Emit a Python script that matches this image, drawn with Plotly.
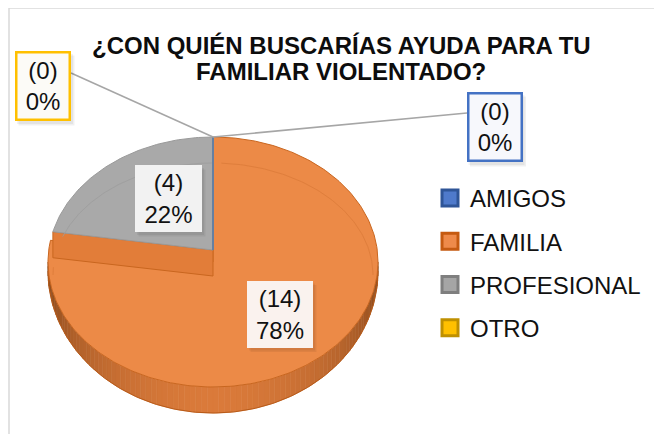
import numpy as np
import plotly.graph_objects as go

# ---------------- data ----------------
categories = ["AMIGOS", "FAMILIA", "PROFESIONAL", "OTRO"]
counts = [0, 14, 4, 0]
title_lines = ["¿CON QUIÉN BUSCARÍAS AYUDA PARA TU", "FAMILIAR VIOLENTADO?"]

# ---------------- style ----------------
face_colors = ["#4472C4", "#EC8A47", "#A9A9A9", "#FFC000"]
edge_colors = ["#4472C4", "#C9661F", "#9A9A9A", "#FFC000"]
bevel_colors = ["#4472C4", "#DD7C3A", "#9E9E9E", "#FFC000"]
legend_fill = ["#4F7ACB", "#EE8A4A", "#A5A5A5", "#FFC000"]
legend_border = ["#2F5597", "#C55A11", "#7F7F7F", "#BF9000"]
FONT = "Liberation Sans, Arial, sans-serif"

W, H = 662, 434
OFF = 8  # page body margin: shift axis ranges so data units equal screen pixels
CX, CY, RX, RY, DEPTH = 213.0, 262.0, 165.0, 125.0, 26.0
LIFT, GAP_DEG = 12.0, 4.0
# inner bevel ellipse
BCY, BRX, BRY = 275.0, 160.0, 112.0

total = sum(counts)
pcts = [round(c / total * 100) for c in counts]
ends = list(np.cumsum(counts) / total * 360.0)
starts = [0.0] + ends[:-1]


def rim(theta, dy=0.0):
    t = np.radians(theta)
    return CX + RX * np.sin(t), CY - RY * np.cos(t) + dy


def depth(theta):
    t = np.radians(np.asarray(theta) - 90.0)
    return DEPTH * (0.35 + 0.65 * np.clip(np.sin(t), 0, 1))


def arc(a0, a1, dy=0.0, step=1.0):
    n = max(2, int(abs(a1 - a0) / step) + 1)
    th = np.linspace(a0, a1, n)
    x, y = rim(th, dy)
    return list(x), list(y)


def mix(c1, c2, t):
    return "rgb(%d,%d,%d)" % tuple(int(round(a + (b - a) * t)) for a, b in zip(c1, c2))


fig = go.Figure()
big = int(np.argmax(counts))

# ---- side wall of the visible (front) rim ----
for i, c in enumerate(counts):
    if c == 0:
        continue
    a0, a1 = max(starts[i], 90.0), min(ends[i], 270.0)
    if a1 <= a0:
        continue
    seg = np.arange(a0, a1, 2.0).tolist() + [a1]
    for a, b in zip(seg[:-1], seg[1:]):
        u = abs(((a + b) / 2 - 180.0) / 90.0)
        col = mix((218, 122, 58), (130, 68, 24), u ** 1.6)
        xa, ya = rim(a)
        xb, yb = rim(b)
        da, db = float(depth(a)), float(depth(b))
        fig.add_trace(go.Scatter(
            x=[xa, xb, xb, xa, xa], y=[ya, yb, yb + db, ya + da, ya],
            mode="lines", fill="toself", fillcolor=col,
            line=dict(color=col, width=0.6), hoverinfo="skip", showlegend=False))
    th = np.linspace(a0, a1, int(a1 - a0) + 1)
    bx, by = rim(th)
    fig.add_trace(go.Scatter(x=list(bx), y=list(by + depth(th)), mode="lines",
                             line=dict(color="#B85A18", width=1),
                             hoverinfo="skip", showlegend=False))

# ---- largest slice top face ----
ax, ay = arc(starts[big], ends[big])
fig.add_trace(go.Scatter(
    x=[CX] + ax + [CX], y=[CY] + ay + [CY], mode="lines", fill="toself",
    fillcolor=face_colors[big], line=dict(color=edge_colors[big], width=1),
    hoverinfo="skip", showlegend=False))

# ---- radial wall of the largest slice (visible strip) ----
sx, sy = rim(ends[big] + GAP_DEG)
fig.add_trace(go.Scatter(
    x=[CX, sx, sx, CX, CX],
    y=[CY - LIFT, sy, sy + DEPTH, CY - LIFT + DEPTH, CY - LIFT],
    mode="lines", fill="toself", fillcolor="#E27D39",
    line=dict(color="#C9661F", width=1), hoverinfo="skip", showlegend=False))

# ---- other non-zero slices ----
for i, c in enumerate(counts):
    if c == 0 or i == big:
        continue
    a0 = starts[i] + (GAP_DEG if starts[i] == ends[big] else 0.0)
    ax, ay = arc(a0, ends[i])
    fig.add_trace(go.Scatter(
        x=[CX] + ax + [CX], y=[CY - LIFT] + ay + [CY - LIFT], mode="lines",
        fill="toself", fillcolor=face_colors[i],
        line=dict(color=edge_colors[i], width=1),
        hoverinfo="skip", showlegend=False))

# ---- faint bevel line on the back half of each top face ----
for i, c in enumerate(counts):
    if c == 0:
        continue
    segs = []
    for lo, hi in ((0.0, 90.0), (270.0, 360.0)):
        a0, a1 = max(starts[i], lo), min(ends[i], hi)
        if i != big and starts[i] == ends[big]:
            a0 = max(a0, starts[i] + GAP_DEG + 6)
        if i == big:
            a1 = min(a1, ends[i] - 6)
            a0 = max(a0, starts[i] + 3)
        if a1 > a0:
            segs.append((a0, a1))
    for a0, a1 in segs:
        th = np.radians(np.linspace(a0, a1, int(a1 - a0) + 2))
        fig.add_trace(go.Scatter(
            x=list(CX + BRX * np.sin(th)), y=list(BCY - BRY * np.cos(th)),
            mode="lines", line=dict(color=bevel_colors[i], width=1),
            opacity=0.8, hoverinfo="skip", showlegend=False))

# ---- zero slices (appear as a single radius) ----
for i in sorted(range(len(counts)), key=lambda k: -k):
    if counts[i] != 0:
        continue
    rx_, ry_ = rim(starts[i])
    fig.add_trace(go.Scatter(
        x=[CX, rx_], y=[CY - LIFT, ry_], mode="lines",
        line=dict(color=face_colors[i], width=1.6),
        hoverinfo="skip", showlegend=False))

# ---- data labels ----
label_pos = {0: (494.5, 127.0), 1: (280.0, 314.0), 2: (168.5, 198.5), 3: (43.0, 86.0)}
label_size = {0: (56, 70), 1: (66, 67), 2: (67, 67), 3: (56, 70)}
label_bg = {0: "#F7F8FC", 1: "#FAF2EE", 2: "#F2F2F2", 3: "#FCFBF7"}
label_border = {0: "#4472C4", 1: None, 2: None, 3: "#FFC000"}
leader_anchor = {0: (467.0, 113.0), 3: (71.0, 73.0)}

for i in leader_anchor:
    px, py = rim(starts[i])
    lx, ly = leader_anchor[i]
    fig.add_trace(go.Scatter(
        x=[lx, px], y=[ly, py], mode="lines",
        line=dict(color="#A6A6A6", width=1.5),
        hoverinfo="skip", showlegend=False))

for i, (lx, ly) in label_pos.items():
    bw = 2.5 if label_border[i] else 0
    bwid, bhei = label_size[i]
    # soft shadow behind the label box
    for k, a in enumerate((0.05, 0.06)):
        d = 2 + 1.5 * k
        fig.add_shape(type="rect", xref="x", yref="y",
                      x0=lx - bwid / 2 + d, x1=lx + bwid / 2 + d,
                      y0=ly - bhei / 2 + d + 1, y1=ly + bhei / 2 + d + 1,
                      line=dict(width=0), fillcolor="rgba(0,0,0,%.2f)" % a,
                      layer="above")
    txt = "(%d)<br>%d%%" % (counts[i], pcts[i])
    fig.add_annotation(x=lx, y=ly, xref="x", yref="y", text=txt,
                       showarrow=False, width=bwid - 2 * bw - 8,
                       height=bhei - 2 * bw - 8, borderpad=4,
                       bgcolor=label_bg[i], borderwidth=bw,
                       bordercolor=label_border[i] or "rgba(0,0,0,0)",
                       font=dict(family=FONT, size=24, color="#111111"))

# ---- title ----
for k, line in enumerate(title_lines):
    fig.add_annotation(x=341, y=45 + 26 * k, xref="x", yref="y",
                       text="<b>%s</b>" % line, showarrow=False,
                       font=dict(family=FONT, size=24, color="#0D0D0D"))

# ---- legend entries ----
for i, cat in enumerate(categories):
    fig.add_trace(go.Scatter(
        x=[None], y=[None], mode="markers", name=cat, legendgroup=cat,
        marker=dict(symbol="square", size=16, color=legend_fill[i],
                    line=dict(color=legend_border[i], width=3)),
        showlegend=True))

# ---- chart border ----
fig.add_shape(type="rect", xref="x", yref="y", x0=9, y0=8, x1=W + 20, y1=H + 20,
              line=dict(color="#D9D9D9", width=1.5), fillcolor="rgba(0,0,0,0)",
              layer="below")

fig.update_layout(
    width=W, height=H, margin=dict(l=0, r=0, t=0, b=0),
    paper_bgcolor="white", plot_bgcolor="white",
    xaxis=dict(range=[OFF, W + OFF], visible=False, fixedrange=True),
    yaxis=dict(range=[H + OFF, OFF], visible=False, fixedrange=True),
    showlegend=True,
    legend=dict(x=(430 - OFF) / W, y=1 - (176 - OFF) / H, xanchor="left", yanchor="top",
                font=dict(family=FONT, size=24, color="#111111"),
                tracegroupgap=9, traceorder="grouped",
                bgcolor="rgba(0,0,0,0)", itemclick=False, itemdoubleclick=False),
)

fig.write_html("out.html")
